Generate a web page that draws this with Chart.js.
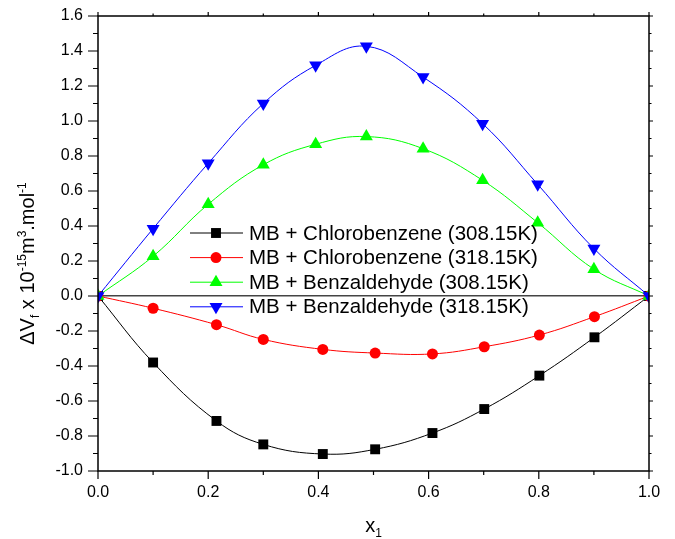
<!DOCTYPE html>
<html>
<head>
<meta charset="utf-8">
<script src="https://cdn.jsdelivr.net/npm/chart.js@4/dist/chart.umd.min.js"></script>
<style>
  html, body { margin: 0; padding: 0; background: #fff; }
  #wrap { width: 675px; height: 539px; }
</style>
</head>
<body>
<div id="wrap"><canvas id="chart" width="675" height="539"></canvas></div>
<script>
// values
const xChloro = [0, 0.1, 0.215, 0.3, 0.408, 0.503, 0.607, 0.701, 0.801, 0.901, 1.0];
const xBenz = [0, 0.1, 0.2, 0.3, 0.395, 0.487, 0.59, 0.698, 0.798, 0.9, 1.0];
const chloro308 = [0, -0.38, -0.714, -0.848, -0.903, -0.876, -0.783, -0.646, -0.455, -0.236, 0];
const chloro318 = [0, -0.07, -0.164, -0.248, -0.305, -0.326, -0.331, -0.29, -0.223, -0.118, 0];
const benz308 = [0, 0.227, 0.524, 0.75, 0.867, 0.911, 0.842, 0.661, 0.419, 0.153, 0];
const benz318 = [0, 0.385, 0.758, 1.1, 1.318, 1.427, 1.251, 0.985, 0.638, 0.271, 0];
const seriesLabels = [
  'MB + Chlorobenzene (308.15K)',
  'MB + Chlorobenzene (318.15K)',
  'MB + Benzaldehyde (308.15K)',
  'MB + Benzaldehyde (318.15K)'
];
const xRange = [0, 1];
const yRange = [-1, 1.6];

const FONT = '"Liberation Sans", Arial, sans-serif';

function pts(xs, ys) { return xs.map((x, i) => ({ x, y: ys[i] })); }
const isMajor = v => Math.round(v * 10) % 2 === 0;

function marker(ctx, style, r, rot, x, y) {
  ctx.beginPath();
  if (style === 'rect') {
    const s = r * Math.SQRT1_2;
    ctx.rect(x - s, y - s, 2 * s, 2 * s);
  } else if (style === 'circle') {
    ctx.arc(x, y, r, 0, Math.PI * 2);
  } else {
    let a = rot * Math.PI / 180;
    for (let k = 0; k < 3; k++) {
      const px = x + Math.sin(a) * r, py = y - Math.cos(a) * r;
      k ? ctx.lineTo(px, py) : ctx.moveTo(px, py);
      a += Math.PI * 2 / 3;
    }
    ctx.closePath();
  }
  ctx.fill();
}

// write text pieces with sub/superscripts, centred on 0
function richText(ctx, parts, cx, cy, size) {
  const small = Math.round(size * 0.6);
  let w = 0;
  parts.forEach(p => {
    ctx.font = (p.s ? small : size) + 'px ' + FONT;
    p.w = ctx.measureText(p.t).width;
    w += p.w;
  });
  let x = cx - w / 2;
  ctx.textBaseline = 'alphabetic';
  ctx.textAlign = 'left';
  parts.forEach(p => {
    ctx.font = (p.s ? small : size) + 'px ' + FONT;
    const dy = p.s === 'sup' ? -size * 0.42 : p.s === 'sub' ? size * 0.25 : 0;
    ctx.fillText(p.t, x, cy + size * 0.35 + dy);
    x += p.w;
  });
}

const decor = {
  id: 'decor',
  afterDatasetsDraw(chart) {
    const { ctx, chartArea: a, scales } = chart;
    ctx.save();
    ctx.strokeStyle = '#000';
    ctx.fillStyle = '#000';
    // frame
    ctx.lineWidth = 1.5;
    ctx.strokeRect(a.left, a.top, a.right - a.left, a.bottom - a.top);
    // ticks on all sides
    ctx.lineWidth = 1.2;
    ctx.beginPath();
    scales.x.ticks.forEach(t => {
      const px = scales.x.getPixelForValue(t.value);
      const big = isMajor(t.value);
      ctx.moveTo(px, a.bottom); ctx.lineTo(px, a.bottom + (big ? 8 : 4));
      ctx.moveTo(px, a.top); ctx.lineTo(px, a.top - (big ? 4 : 2.5));
    });
    scales.y.ticks.forEach(t => {
      const py = scales.y.getPixelForValue(t.value);
      const big = isMajor(t.value);
      ctx.moveTo(a.left, py); ctx.lineTo(a.left - (big ? 10 : 5), py);
      ctx.moveTo(a.right, py); ctx.lineTo(a.right + (big ? 4 : 2.5), py);
    });
    ctx.stroke();

    // legend inside the plot
    const lx = a.left + 92, ly = a.top + 217, gap = 24.6;
    chart.data.datasets.forEach((ds, i) => {
      const y = ly + i * gap;
      ctx.strokeStyle = ds.borderColor;
      ctx.lineWidth = 1;
      ctx.beginPath();
      ctx.moveTo(lx, y); ctx.lineTo(lx + 53, y);
      ctx.stroke();
      ctx.fillStyle = ds.pointBackgroundColor;
      marker(ctx, ds.pointStyle, ds.pointRadius, ds.pointRotation || 0, lx + 26, y);
      ctx.fillStyle = '#000';
      ctx.font = '20.5px ' + FONT;
      ctx.textAlign = 'left';
      ctx.textBaseline = 'middle';
      ctx.fillText(ds.label, lx + 59, y + 1);
    });

    // axis titles
    ctx.fillStyle = '#000';
    richText(ctx, [{ t: 'x' }, { t: '1', s: 'sub' }], (a.left + a.right) / 2, 525, 20);
    ctx.translate(27, (a.top + a.bottom) / 2 + 20);
    ctx.rotate(-Math.PI / 2);
    richText(ctx, [
      { t: '\u0394V' }, { t: 'f', s: 'sub' }, { t: ' x 10' }, { t: '-15', s: 'sup' },
      { t: 'm' }, { t: '3', s: 'sup' }, { t: '.mol' }, { t: '-1', s: 'sup' }
    ], 0, 0, 20);
    ctx.restore();
  }
};

const series = [
  { data: pts(xChloro, chloro308), color: '#000000', style: 'rect', r: 7, rot: 0, order: 3 },
  { data: pts(xChloro, chloro318), color: '#ff0000', style: 'circle', r: 5.5, rot: 0, order: 2 },
  { data: pts(xBenz, benz308), color: '#00ff00', style: 'triangle', r: 7.5, rot: 0, order: 1 },
  { data: pts(xBenz, benz318), color: '#0000ff', style: 'triangle', r: 7.5, rot: 180, order: 0 }
];

new Chart(document.getElementById('chart'), {
  type: 'line',
  data: {
    datasets: series.map((s, i) => ({
      label: seriesLabels[i],
      data: s.data,
      borderColor: s.color,
      borderWidth: 1,
      pointStyle: s.style,
      pointRadius: s.r,
      pointRotation: s.rot,
      pointBackgroundColor: s.color,
      pointBorderColor: s.color,
      pointBorderWidth: 0,
      tension: 0.4,
      fill: false,
      order: s.order
    }))
  },
  options: {
    responsive: false,
    animation: false,
    events: [],
    layout: { padding: { top: 16, right: 26, left: 0, bottom: 0 } },
    plugins: { legend: { display: false }, tooltip: { enabled: false } },
    scales: {
      x: {
        type: 'linear', min: xRange[0], max: xRange[1],
        afterFit: s => { s.height = 68; },
        border: { display: false },
        grid: { drawOnChartArea: false, tickLength: 8, tickColor: 'rgba(0,0,0,0)' },
        ticks: {
          stepSize: 0.1, padding: 4, color: '#000', maxRotation: 0, autoSkip: false,
          font: { family: FONT, size: 16 },
          callback: v => isMajor(v) ? v.toFixed(1) : ''
        }
      },
      y: {
        type: 'linear', min: yRange[0], max: yRange[1],
        afterFit: s => { s.width = 98; },
        border: { display: false },
        grid: {
          tickLength: 10, tickColor: 'rgba(0,0,0,0)', lineWidth: 1.5,
          color: c => Math.abs(c.tick.value) < 1e-9 ? '#444' : 'rgba(0,0,0,0)'
        },
        ticks: {
          stepSize: 0.1, padding: 5, color: '#000', autoSkip: false,
          font: { family: FONT, size: 16 },
          callback: v => isMajor(v) ? v.toFixed(1) : ''
        }
      }
    }
  },
  plugins: [decor]
});
</script>
</body>
</html>
